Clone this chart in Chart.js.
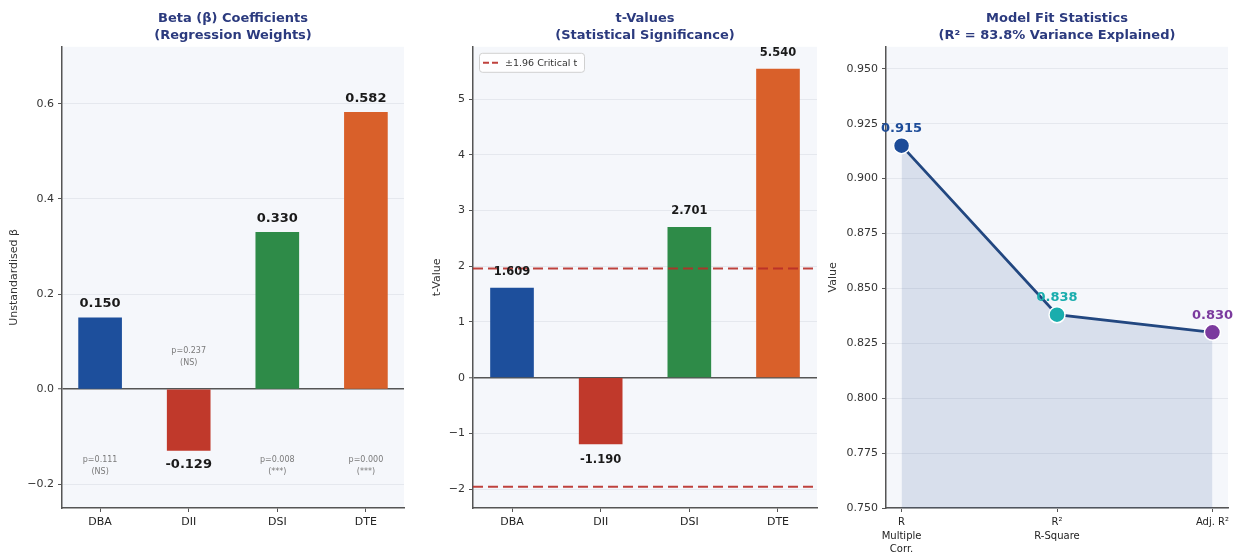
<!DOCTYPE html>
<html>
<head>
<meta charset="utf-8">
<title>Regression Results</title>
<script src="https://cdn.jsdelivr.net/npm/chart.js@4.4.1/dist/chart.umd.min.js"></script>
<style>
  html, body { margin: 0; padding: 0; background: #ffffff; }
  #wrap { position: relative; width: 1243px; height: 555px; }
  .panel { position: absolute; top: 0; height: 555px; }
</style>
</head>
<body>
<div id="wrap">
  <div class="panel" style="left:0;width:420px"><canvas id="betaChart"></canvas></div>
  <div class="panel" style="left:420px;width:400px"><canvas id="tChart"></canvas></div>
  <div class="panel" style="left:820px;width:423px"><canvas id="fitChart"></canvas></div>
</div>
<script>
// ---- regression output ----
const predictors = ['DBA', 'DII', 'DSI', 'DTE'];
const betaValues = [0.150, -0.129, 0.330, 0.582];
const pValues = [0.111, 0.237, 0.008, 0.000];
const sigMarks = ['NS', 'NS', '***', '***'];
const tValues = [1.609, -1.190, 2.701, 5.540];
const criticalT = 1.96;
const fitLabels = [['R', 'Multiple', 'Corr.'], ['R\u00b2', 'R-Square'], ['Adj. R\u00b2']];
const fitValues = [0.915, 0.838, 0.830];

// ---- tick values ----
const betaTicks = [-0.2, 0.0, 0.2, 0.4, 0.6];
const tTicks = [-2, -1, 0, 1, 2, 3, 4, 5];
const fitTicks = [0.750, 0.775, 0.800, 0.825, 0.850, 0.875, 0.900, 0.925, 0.950];

// ---- styling ----
const FONT = '"DejaVu Sans", "Liberation Sans", sans-serif';
const barColors = ['#1d4f9c', '#c0392b', '#2e8b48', '#d9602a'];
const fitColors = ['#1d4c98', '#19adad', '#7b3a9e'];
const TITLE_COLOR = '#2b3a7e';
const AXIS_COLOR = '#555555';
const GRID_COLOR = '#e5e8ee';
const PLOT_BG = '#f5f7fb';
const CRIT_COLOR = 'rgba(184,46,40,0.9)';

Chart.defaults.font.family = FONT;
Chart.defaults.animation = false;

const minusFmt = (s) => s.replace('-', '\u2212');

const plotBackground = {
  id: 'plotBackground',
  beforeDraw(chart) {
    const { ctx, chartArea: a } = chart;
    ctx.save();
    ctx.fillStyle = PLOT_BG;
    ctx.fillRect(a.left, a.top, a.right - a.left, a.bottom - a.top);
    ctx.restore();
  }
};

function barValueLabels(fontSize, gap) {
  return {
    id: 'barValueLabels',
    afterDatasetsDraw(chart) {
      const ctx = chart.ctx;
      const meta = chart.getDatasetMeta(0);
      const data = chart.data.datasets[0].data;
      ctx.save();
      ctx.font = `bold ${fontSize}px ${FONT}`;
      ctx.fillStyle = '#1a1a1a';
      ctx.textAlign = 'center';
      ctx.textBaseline = 'middle';
      meta.data.forEach((bar, i) => {
        const v = data[i].y;
        const y = v >= 0 ? bar.y - gap : bar.y + gap;
        ctx.fillText(v.toFixed(3), bar.x, y);
      });
      ctx.restore();
    }
  };
}

// p-value notes sit on the opposite side of zero from each bar
const pValueNotes = {
  id: 'pValueNotes',
  afterDatasetsDraw(chart) {
    const { ctx, scales } = chart;
    ctx.save();
    ctx.font = `8px ${FONT}`;
    ctx.fillStyle = '#7a7a7a';
    ctx.textAlign = 'center';
    ctx.textBaseline = 'middle';
    betaValues.forEach((b, i) => {
      const x = scales.x.getPixelForValue(i);
      const yc = scales.y.getPixelForValue(b >= 0 ? -0.162 : 0.067);
      ctx.fillText('p=' + pValues[i].toFixed(3), x, yc - 6);
      ctx.fillText('(' + sigMarks[i] + ')', x, yc + 6);
    });
    ctx.restore();
  }
};

const criticalLegend = {
  id: 'criticalLegend',
  afterDraw(chart) {
    const { ctx, chartArea: a } = chart;
    const x = a.left + 6, y = a.top + 6, w = 105, h = 19;
    ctx.save();
    ctx.fillStyle = 'rgba(255,255,255,0.85)';
    ctx.strokeStyle = '#d0d0d0';
    ctx.lineWidth = 1;
    ctx.beginPath();
    ctx.roundRect(x + 0.5, y + 0.5, w, h, 3);
    ctx.fill();
    ctx.stroke();
    ctx.strokeStyle = CRIT_COLOR;
    ctx.lineWidth = 2;
    ctx.setLineDash([6, 3]);
    ctx.beginPath();
    ctx.moveTo(x + 4, y + h / 2 + 0.5);
    ctx.lineTo(x + 20, y + h / 2 + 0.5);
    ctx.stroke();
    ctx.setLineDash([]);
    ctx.fillStyle = '#333';
    ctx.font = `9.5px ${FONT}`;
    ctx.textBaseline = 'middle';
    ctx.fillText('\u00b11.96 Critical t', x + 26, y + h / 2 + 1);
    ctx.restore();
  }
};

const fitValueLabels = {
  id: 'fitValueLabels',
  afterDatasetsDraw(chart) {
    const ctx = chart.ctx;
    const meta = chart.getDatasetMeta(0);
    ctx.save();
    ctx.font = `bold 13px ${FONT}`;
    ctx.textAlign = 'center';
    ctx.textBaseline = 'middle';
    meta.data.forEach((pt, i) => {
      ctx.fillStyle = fitColors[i];
      ctx.fillText(fitValues[i].toFixed(3), pt.x, pt.y - 17);
    });
    ctx.restore();
  }
};

function titleOpts(lines) {
  return {
    display: true,
    text: lines,
    fullSize: false,
    color: TITLE_COLOR,
    font: { family: FONT, size: 13, weight: 'bold', lineHeight: 1.3 },
    padding: { top: 10.5, bottom: 2.5 }
  };
}

function xScale(min, max, tickVals, labelFor, fontSize, lineHeight) {
  return {
    type: 'linear',
    min: min,
    max: max,
    offset: false,
    afterBuildTicks: (s) => { s.ticks = tickVals.map(v => ({ value: v })); },
    afterFit: (s) => { s.height = 47; s.paddingLeft = 0; s.paddingRight = 0; },
    ticks: {
      callback: (v) => labelFor(v),
      autoSkip: false,
      maxRotation: 0,
      padding: 4,
      color: '#222',
      font: { size: fontSize, lineHeight: lineHeight }
    },
    grid: { display: true, drawOnChartArea: false, drawTicks: true, tickLength: 4, tickColor: AXIS_COLOR, offset: false },
    border: { display: true, color: AXIS_COLOR, width: 1.5 }
  };
}

function yScale(min, max, tickVals, fmt, width, title, titlePad, zeroLine) {
  return {
    type: 'linear',
    min: min,
    max: max,
    afterBuildTicks: (s) => { s.ticks = tickVals.map(v => ({ value: v })); },
    afterFit: (s) => { s.width = width; s.paddingTop = 0; s.paddingBottom = 0; },
    ticks: { callback: (v) => fmt(v), padding: 4, color: '#333', font: { size: 11 } },
    grid: {
      color: (c) => (zeroLine && c.tick && Math.abs(c.tick.value) < 1e-9) ? AXIS_COLOR : GRID_COLOR,
      lineWidth: (c) => (zeroLine && c.tick && Math.abs(c.tick.value) < 1e-9) ? 1.5 : 1,
      tickColor: AXIS_COLOR,
      tickWidth: 1,
      tickLength: 4
    },
    border: { display: true, color: AXIS_COLOR, width: 1.5 },
    title: { display: true, text: title, color: '#333', font: { size: 11 }, padding: { top: titlePad, bottom: 0 } }
  };
}

// ---- Panel 1: regression weights ----
new Chart(document.getElementById('betaChart'), {
  type: 'bar',
  data: {
    datasets: [{
      data: predictors.map((p, i) => ({ x: i, y: betaValues[i] })),
      backgroundColor: barColors,
      borderWidth: 0,
      barThickness: 43
    }]
  },
  options: {
    responsive: true,
    maintainAspectRatio: false,
    layout: { padding: { left: 0, right: 16, top: 0, bottom: 0 } },
    plugins: {
      legend: { display: false },
      tooltip: { enabled: false },
      title: titleOpts(['Beta (\u03b2) Coefficients', '(Regression Weights)'])
    },
    scales: {
      x: xScale(-0.43, 3.43, [0, 1, 2, 3], (v) => predictors[v], 11, 1.2),
      y: yScale(-0.25, 0.72, betaTicks, (v) => minusFmt(v.toFixed(1)), 62, 'Unstandardised \u03b2', 7.4, true)
    }
  },
  plugins: [plotBackground, barValueLabels(13, 14), pValueNotes]
});

// ---- Panel 2: t statistics with critical bounds ----
new Chart(document.getElementById('tChart'), {
  type: 'bar',
  data: {
    datasets: [
      {
        type: 'bar',
        order: 1,
        data: predictors.map((p, i) => ({ x: i, y: tValues[i] })),
        backgroundColor: barColors,
        borderWidth: 0,
        barThickness: 43
      },
      {
        type: 'line',
        order: 0,
        data: [{ x: -0.44, y: criticalT }, { x: 3.44, y: criticalT }],
        borderColor: CRIT_COLOR,
        borderWidth: 2,
        borderDash: [10, 5],
        pointRadius: 0,
        fill: false
      },
      {
        type: 'line',
        order: 0,
        data: [{ x: -0.44, y: -criticalT }, { x: 3.44, y: -criticalT }],
        borderColor: CRIT_COLOR,
        borderWidth: 2,
        borderDash: [10, 5],
        pointRadius: 0,
        fill: false
      }
    ]
  },
  options: {
    responsive: true,
    maintainAspectRatio: false,
    layout: { padding: { left: 0, right: 3, top: 0, bottom: 0 } },
    plugins: {
      legend: { display: false },
      tooltip: { enabled: false },
      title: titleOpts(['t-Values', '(Statistical Significance)'])
    },
    scales: {
      x: xScale(-0.44, 3.44, [0, 1, 2, 3], (v) => predictors[v], 11, 1.2),
      y: yScale(-2.34, 5.94, tTicks, (v) => minusFmt(String(v)), 53, 't-Value', 10.4, true)
    }
  },
  plugins: [plotBackground, barValueLabels(11.5, 16), criticalLegend]
});

// ---- Panel 3: model fit ----
new Chart(document.getElementById('fitChart'), {
  type: 'line',
  data: {
    datasets: [{
      data: fitValues.map((v, i) => ({ x: i, y: v })),
      borderColor: '#224780',
      borderWidth: 2.8,
      tension: 0,
      fill: 'start',
      backgroundColor: 'rgba(40,80,150,0.14)',
      pointBackgroundColor: fitColors,
      pointBorderColor: '#ffffff',
      pointBorderWidth: 1.5,
      pointRadius: 8
    }]
  },
  options: {
    responsive: true,
    maintainAspectRatio: false,
    layout: { padding: { left: 0, right: 15, top: 0, bottom: 0 } },
    plugins: {
      legend: { display: false },
      tooltip: { enabled: false },
      title: titleOpts(['Model Fit Statistics', '(R\u00b2 = 83.8% Variance Explained)'])
    },
    scales: {
      x: xScale(-0.1, 2.1, [0, 1, 2], (v) => fitLabels[v], 10, 1.35),
      y: yScale(0.75, 0.96, fitTicks, (v) => v.toFixed(3), 66, 'Value', 6.4, false)
    }
  },
  plugins: [plotBackground, fitValueLabels]
});
</script>
</body>
</html>
